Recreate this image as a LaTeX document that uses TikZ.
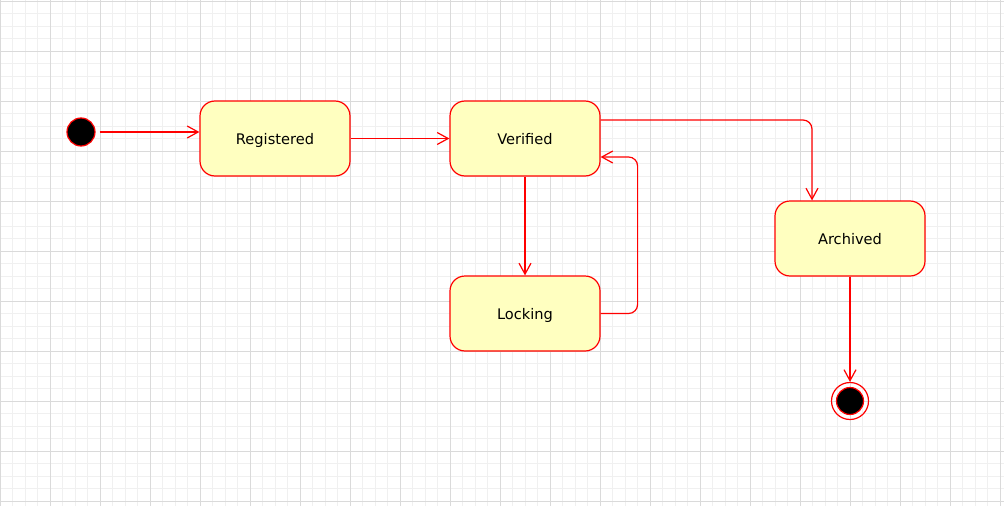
\documentclass[tikz,border=0pt]{standalone}
\usepackage{fontspec}
\setmainfont{DejaVu Sans}
\usetikzlibrary{arrows.meta}
\definecolor{stfill}{HTML}{FFFFC0}
\definecolor{stline}{HTML}{FF0000}
\definecolor{gridminor}{HTML}{F0F0F0}
\definecolor{gridmajor}{HTML}{DADADA}
\tikzset{
  statebox/.style={draw=stline, fill=stfill, line width=1.2pt, rounded corners=15pt,
    minimum width=150pt, minimum height=75pt, inner sep=0pt,
    text height=12pt, text depth=0pt,
    font=\fontsize{14.6}{17}\selectfont},
  conn/.style={draw=stline, line width=1.2pt, rounded corners=9pt,
    -{Straight Barb[length=11pt,width=12pt,line width=1.2pt]}},
}
\begin{document}
\begin{tikzpicture}[x=1pt,y=-1pt]
\useasboundingbox (0,0) rectangle (1004,506);
\fill[white] (0,0) rectangle (1004,506);
% grid
\foreach \i in {0,...,80} {
  \draw[gridminor, line width=0.8pt] (\i*12.5,0) -- (\i*12.5,506);
}
\foreach \j in {0,...,40} {
  \draw[gridminor, line width=0.8pt] (0,1+\j*12.5) -- (1004,1+\j*12.5);
}
\foreach \i in {0,...,20} {
  \draw[gridmajor, line width=0.8pt] (\i*50,0) -- (\i*50,506);
}
\foreach \j in {0,...,10} {
  \draw[gridmajor, line width=0.8pt] (0,1+\j*50) -- (1004,1+\j*50);
}
% nodes
\node[circle, draw=stline, fill=black, line width=1.2pt, minimum size=28pt, inner sep=0pt] (init) at (81,132) {};
\node[statebox] (reg) at (275,138.5) {Registered};
\node[statebox] (ver) at (525,138.5) {Verified};
\node[statebox] (lock) at (525,313.5) {Locking};
\node[statebox] (arch) at (850,238.5) {Archived};
\node[circle, draw=stline, line width=1.2pt, minimum size=37pt, inner sep=0pt] (fin) at (850,401) {};
\node[circle, draw=stline, fill=black, line width=1.2pt, minimum size=27pt, inner sep=0pt] (finin) at (fin) {};
% connectors
\draw[conn, shorten <=4pt] (init.east) -- (reg.west |- init.east);
\draw[conn] (reg.east) -- (ver.west);
\draw[conn] ([yshift=18.5pt]ver.east) -| ([xshift=-38pt]arch.north);
\draw[conn] (ver.south) -- (lock.north);
\draw[conn] (lock.east) -- ++(37,0) |- ([yshift=-18.5pt]ver.east);
\draw[conn] (arch.south) -- (fin.north);
\end{tikzpicture}
\end{document}
